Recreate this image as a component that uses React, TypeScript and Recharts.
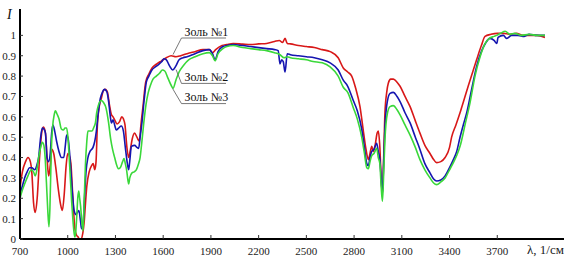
import { LineChart, Line, XAxis, YAxis, ReferenceLine, ReferenceDot } from 'recharts';

const xTicks = [700, 1000, 1300, 1600, 1900, 2200, 2500, 2800, 3100, 3400, 3700];
const yTicks = [0, 0.1, 0.2, 0.3, 0.4, 0.5, 0.6, 0.7, 0.8, 0.9, 1];

// Золь №1 (red)
const wave1 = [
  700, 715, 735, 750, 765, 775, 785, 796, 808, 823, 838, 848, 860, 870, 880, 890, 900, 912, 925, 940,
  955, 966, 978, 990, 1000, 1010, 1020, 1033, 1045, 1055, 1065, 1075, 1085, 1095, 1103, 1112, 1120, 1135, 1150, 1160,
  1170, 1178, 1186, 1198, 1211, 1225, 1236, 1250, 1262, 1275, 1285, 1295, 1310, 1325, 1340, 1350, 1360, 1372, 1383, 1392,
  1405, 1420, 1435, 1450, 1460, 1473, 1490, 1510, 1530, 1560, 1590, 1620, 1650, 1680, 1710, 1750, 1800, 1850, 1890, 1910,
  1930, 1970, 2000, 2040, 2100, 2150, 2200, 2250, 2300, 2330, 2350, 2366, 2380, 2400, 2450, 2500, 2550, 2600, 2650, 2700,
  2732, 2760, 2785, 2810, 2837, 2860, 2875, 2890, 2900, 2911, 2920, 2932, 2945, 2952, 2962, 2970, 2978, 2986, 2994, 3005,
  3015, 3030, 3047, 3070, 3089, 3120, 3152, 3185, 3214, 3245, 3277, 3300, 3319, 3345, 3372, 3400, 3413, 3440, 3470, 3517,
  3570, 3600, 3623, 3660, 3700, 3740, 3780, 3820, 3860, 3900, 3950, 4000,
];
const sol1 = [
  0.25, 0.33, 0.38, 0.40, 0.38, 0.32, 0.18, 0.13, 0.20, 0.40, 0.53, 0.55, 0.52, 0.40, 0.31, 0.36, 0.44, 0.42, 0.35, 0.25,
  0.17, 0.14, 0.22, 0.36, 0.42, 0.41, 0.37, 0.19, 0.05, 0.02, 0.01, 0.0, 0.0, 0.03, 0.08, 0.18, 0.26, 0.33, 0.36, 0.37,
  0.34, 0.38, 0.55, 0.65, 0.69, 0.73, 0.735, 0.72, 0.66, 0.61, 0.60, 0.585, 0.565, 0.575, 0.60, 0.59, 0.56, 0.45, 0.40, 0.43,
  0.49, 0.52, 0.50, 0.48, 0.56, 0.65, 0.77, 0.81, 0.84, 0.86, 0.875, 0.89, 0.90, 0.895, 0.90, 0.91, 0.92, 0.93, 0.93, 0.915,
  0.93, 0.95, 0.955, 0.96, 0.957, 0.955, 0.958, 0.96, 0.97, 0.975, 0.965, 0.985, 0.96, 0.958, 0.95, 0.945, 0.94, 0.93, 0.92, 0.89,
  0.84, 0.82, 0.80, 0.74, 0.65, 0.52, 0.44, 0.39, 0.42, 0.455, 0.43, 0.46, 0.52, 0.53, 0.45, 0.30, 0.22, 0.40, 0.62, 0.72,
  0.765, 0.785, 0.785, 0.77, 0.75, 0.70, 0.65, 0.58, 0.52, 0.46, 0.42, 0.39, 0.375, 0.38, 0.40, 0.45, 0.50, 0.56, 0.63, 0.75,
  0.88, 0.95, 0.995, 1.005, 1.01, 1.01, 1.005, 1.01, 1.0, 1.0, 1.0, 0.99,
];

// Золь №2 (blue)
const wave2 = [
  700, 715, 729, 745, 760, 775, 792, 805, 817, 830, 840, 850, 860, 870, 880, 890, 900, 907, 918, 930,
  945, 960, 975, 985, 993, 1003, 1012, 1020, 1030, 1040, 1052, 1060, 1070, 1080, 1087, 1096, 1106, 1115, 1127, 1140,
  1159, 1170, 1180, 1192, 1205, 1218, 1230, 1245, 1258, 1268, 1275, 1285, 1295, 1305, 1320, 1337, 1350, 1362, 1375, 1383,
  1392, 1400, 1421, 1435, 1446, 1455, 1465, 1480, 1494, 1510, 1525, 1560, 1590, 1605, 1620, 1640, 1660, 1680, 1700, 1725,
  1750, 1800, 1850, 1890, 1910, 1926, 1945, 1975, 2000, 2040, 2100, 2150, 2200, 2250, 2300, 2323, 2334, 2345, 2355, 2366,
  2380, 2400, 2450, 2500, 2550, 2600, 2649, 2700, 2732, 2760, 2795, 2820, 2848, 2865, 2880, 2890, 2900, 2911, 2925, 2942,
  2952, 2962, 2970, 2978, 2986, 2994, 3010, 3026, 3047, 3070, 3089, 3120, 3152, 3185, 3214, 3245, 3277, 3300, 3319, 3345,
  3372, 3400, 3424, 3445, 3466, 3490, 3508, 3540, 3571, 3600, 3625, 3654, 3680, 3697, 3705, 3738, 3760, 3790, 3830, 3870,
  3900, 3950, 4000,
];
const sol2 = [
  0.22, 0.26, 0.30, 0.33, 0.35, 0.35, 0.34, 0.36, 0.40, 0.50, 0.545, 0.54, 0.52, 0.40, 0.38, 0.42, 0.53, 0.56, 0.53, 0.48,
  0.43, 0.40, 0.40, 0.46, 0.51, 0.49, 0.42, 0.33, 0.22, 0.14, 0.12, 0.13, 0.14, 0.09, 0.05, 0.07, 0.21, 0.33, 0.40, 0.43,
  0.45, 0.48, 0.53, 0.62, 0.69, 0.72, 0.735, 0.725, 0.67, 0.60, 0.57, 0.585, 0.56, 0.535, 0.545, 0.555, 0.53, 0.45, 0.37, 0.34,
  0.40, 0.455, 0.46, 0.45, 0.445, 0.50, 0.56, 0.68, 0.77, 0.80, 0.825, 0.85, 0.87, 0.885, 0.88, 0.85, 0.83, 0.85, 0.88, 0.89,
  0.895, 0.91, 0.925, 0.93, 0.91, 0.88, 0.92, 0.945, 0.95, 0.955, 0.95, 0.945, 0.94, 0.935, 0.93, 0.925, 0.86, 0.88, 0.87, 0.82,
  0.91, 0.905, 0.90, 0.895, 0.89, 0.88, 0.865, 0.83, 0.78, 0.75, 0.68, 0.63, 0.54, 0.45, 0.37, 0.36, 0.40, 0.43, 0.44, 0.47,
  0.43, 0.39, 0.30, 0.22, 0.38, 0.55, 0.68, 0.715, 0.72, 0.70, 0.675, 0.62, 0.57, 0.50, 0.44, 0.37, 0.325, 0.295, 0.285, 0.29,
  0.31, 0.35, 0.39, 0.43, 0.50, 0.57, 0.62, 0.74, 0.85, 0.92, 0.96, 0.985, 0.975, 0.96, 0.99, 1.0, 0.985, 1.0, 1.0, 0.995,
  1.005, 1.0, 1.0,
];

// Золь №3 (green)
const wave3 = [
  700, 715, 729, 750, 771, 785, 796, 806, 817, 830, 840, 850, 858, 866, 874, 882, 888, 897, 905, 915,
  922, 932, 945, 960, 972, 983, 993, 1000, 1008, 1015, 1025, 1033, 1040, 1045, 1050, 1056, 1063, 1069, 1075, 1081,
  1089, 1096, 1104, 1111, 1120, 1127, 1140, 1153, 1165, 1174, 1182, 1192, 1211, 1225, 1240, 1257, 1270, 1282, 1295, 1305,
  1318, 1330, 1345, 1354, 1362, 1370, 1378, 1383, 1390, 1404, 1418, 1431, 1445, 1455, 1465, 1478, 1492, 1505, 1520, 1536,
  1557, 1578, 1595, 1610, 1630, 1650, 1662, 1680, 1700, 1730, 1760, 1800, 1850, 1890, 1910, 1926, 1945, 1975, 2000, 2040,
  2100, 2150, 2200, 2250, 2300, 2334, 2360, 2380, 2400, 2450, 2500, 2542, 2600, 2649, 2700, 2732, 2760, 2795, 2820, 2848,
  2865, 2880, 2890, 2900, 2911, 2925, 2942, 2952, 2962, 2970, 2978, 2986, 2994, 3010, 3026, 3047, 3070, 3089, 3120, 3152,
  3185, 3214, 3245, 3277, 3300, 3319, 3345, 3372, 3400, 3424, 3445, 3466, 3500, 3529, 3560, 3592, 3623, 3650, 3680, 3696,
  3720, 3750, 3780, 3810, 3850, 3900, 3950, 4000,
];
const sol3 = [
  0.20, 0.24, 0.27, 0.31, 0.34, 0.33, 0.31, 0.34, 0.40, 0.45, 0.475, 0.46, 0.40, 0.28, 0.15, 0.06, 0.15, 0.44, 0.55, 0.61,
  0.63, 0.615, 0.59, 0.54, 0.535, 0.545, 0.545, 0.51, 0.42, 0.32, 0.18, 0.09, 0.03, 0.01, 0.03, 0.10, 0.20, 0.235, 0.20, 0.16,
  0.08, 0.04, 0.20, 0.36, 0.48, 0.53, 0.53, 0.53, 0.55, 0.57, 0.62, 0.655, 0.68, 0.67, 0.645, 0.57, 0.49, 0.44, 0.40, 0.37,
  0.345, 0.35, 0.38, 0.395, 0.37, 0.34, 0.29, 0.27, 0.30, 0.325, 0.33, 0.34, 0.37, 0.40, 0.47, 0.57, 0.66, 0.715, 0.755, 0.785,
  0.80, 0.815, 0.83, 0.825, 0.79, 0.755, 0.74, 0.78, 0.82, 0.855, 0.88, 0.895, 0.91, 0.915, 0.90, 0.875, 0.91, 0.935, 0.945, 0.95,
  0.94, 0.935, 0.93, 0.925, 0.915, 0.905, 0.89, 0.895, 0.89, 0.885, 0.88, 0.872, 0.865, 0.845, 0.80, 0.745, 0.72, 0.645, 0.59, 0.50,
  0.42, 0.35, 0.345, 0.38, 0.41, 0.42, 0.445, 0.40, 0.37, 0.26, 0.185, 0.32, 0.49, 0.62, 0.65, 0.655, 0.635, 0.61, 0.56, 0.51,
  0.45, 0.39, 0.34, 0.30, 0.275, 0.267, 0.28, 0.30, 0.34, 0.375, 0.41, 0.455, 0.57, 0.67, 0.80, 0.895, 0.96, 0.985, 0.995, 1.0,
  1.01, 1.02, 1.005, 1.01, 1.0, 1.005, 1.0, 1.0,
];

const toPoints = (xs: number[], ys: number[]) => xs.map((x, i) => ({ x, y: ys[i] }));

const series = [
  { name: 'Золь №1', data: toPoints(wave1, sol1), color: '#d81818' },
  { name: 'Золь №2', data: toPoints(wave2, sol2), color: '#1515b0' },
  { name: 'Золь №3', data: toPoints(wave3, sol3), color: '#3ad83a' },
];

// callout labels: leader end on the curve, underline level, text level
const callouts = [
  { text: 'Золь №1', tip: { x: 1662, y: 0.906 }, y: 0.987, textY: 1.02 },
  { text: 'Золь №2', tip: { x: 1681, y: 0.832 }, y: 0.764, textY: 0.797 },
  { text: 'Золь №3', tip: { x: 1659, y: 0.739 }, y: 0.665, textY: 0.698 },
];
const calloutX = 1715;
const calloutEnd = 1995;

const font = 'Liberation Serif';
const tickStyle = { fontSize: 11, fill: '#222', fontFamily: font };

export default function App() {
  return (
    <div style={{ position: 'absolute', left: 0, top: 0, width: 575, height: 262, background: '#fff', fontFamily: font }}>
      <LineChart width={575} height={262} margin={{ top: 15, right: 30, bottom: 0, left: 0 }} style={{ fontFamily: font }}>
        <XAxis
          type="number"
          dataKey="x"
          domain={[700, 4000]}
          ticks={xTicks}
          allowDataOverflow
          height={23}
          tickSize={-4}
          tickMargin={12}
          tick={tickStyle}
          tickLine={{ stroke: '#333' }}
          axisLine={{ stroke: '#000', strokeWidth: 2 }}
        />
        <XAxis
          xAxisId="top"
          orientation="top"
          type="number"
          dataKey="x"
          domain={[700, 4000]}
          ticks={xTicks}
          height={0}
          tickSize={-4}
          tick={false}
          tickLine={{ stroke: '#777' }}
          axisLine={{ stroke: '#777' }}
        />
        <YAxis
          type="number"
          domain={[0, 1.1]}
          ticks={yTicks}
          allowDataOverflow
          width={20}
          tickSize={-3}
          tickMargin={7}
          tick={tickStyle}
          tickFormatter={(v: number) => String(v)}
          tickLine={{ stroke: '#333' }}
          axisLine={{ stroke: '#000', strokeWidth: 2 }}
        />
        <YAxis
          yAxisId="right"
          orientation="right"
          type="number"
          domain={[0, 1.1]}
          ticks={yTicks}
          width={0}
          tickSize={-4}
          tick={false}
          tickLine={{ stroke: '#777' }}
          axisLine={{ stroke: '#777' }}
        />
        {series.map((s) => (
          <Line
            key={s.name}
            data={s.data}
            dataKey="y"
            name={s.name}
            type="monotone"
            stroke={s.color}
            strokeWidth={1.6}
            dot={false}
            isAnimationActive={false}
          />
        ))}
        {callouts.map((c) => (
          <ReferenceLine
            key={c.text + '-leader'}
            segment={[c.tip, { x: calloutX, y: c.y }]}
            stroke="#555"
            strokeWidth={0.8}
          />
        ))}
        {callouts.map((c) => (
          <ReferenceLine
            key={c.text + '-under'}
            segment={[{ x: calloutX, y: c.y }, { x: calloutEnd, y: c.y }]}
            stroke="#555"
            strokeWidth={0.8}
          />
        ))}
        {callouts.map((c) => (
          <ReferenceDot
            key={c.text + '-label'}
            x={calloutX}
            y={c.textY}
            r={0}
            stroke="none"
            fill="none"
            label={{ value: c.text, position: 'right', offset: 3, fontSize: 12, fill: '#111', fontFamily: font }}
          />
        ))}
      </LineChart>
      <svg width={575} height={262} style={{ position: 'absolute', left: 0, top: 0, pointerEvents: 'none' }}>
        <line x1={20} y1={15} x2={20} y2={9} stroke="#000" strokeWidth={2} />
        <line x1={545} y1={239} x2={564} y2={239} stroke="#000" strokeWidth={2} />
        <text x={7} y={19} fontSize={14} fontStyle="italic" fontFamily={font} fill="#111">I</text>
        <text x={527} y={254} fontSize={13} fontFamily={font} fill="#222">λ,  1/см</text>
      </svg>
    </div>
  );
}
